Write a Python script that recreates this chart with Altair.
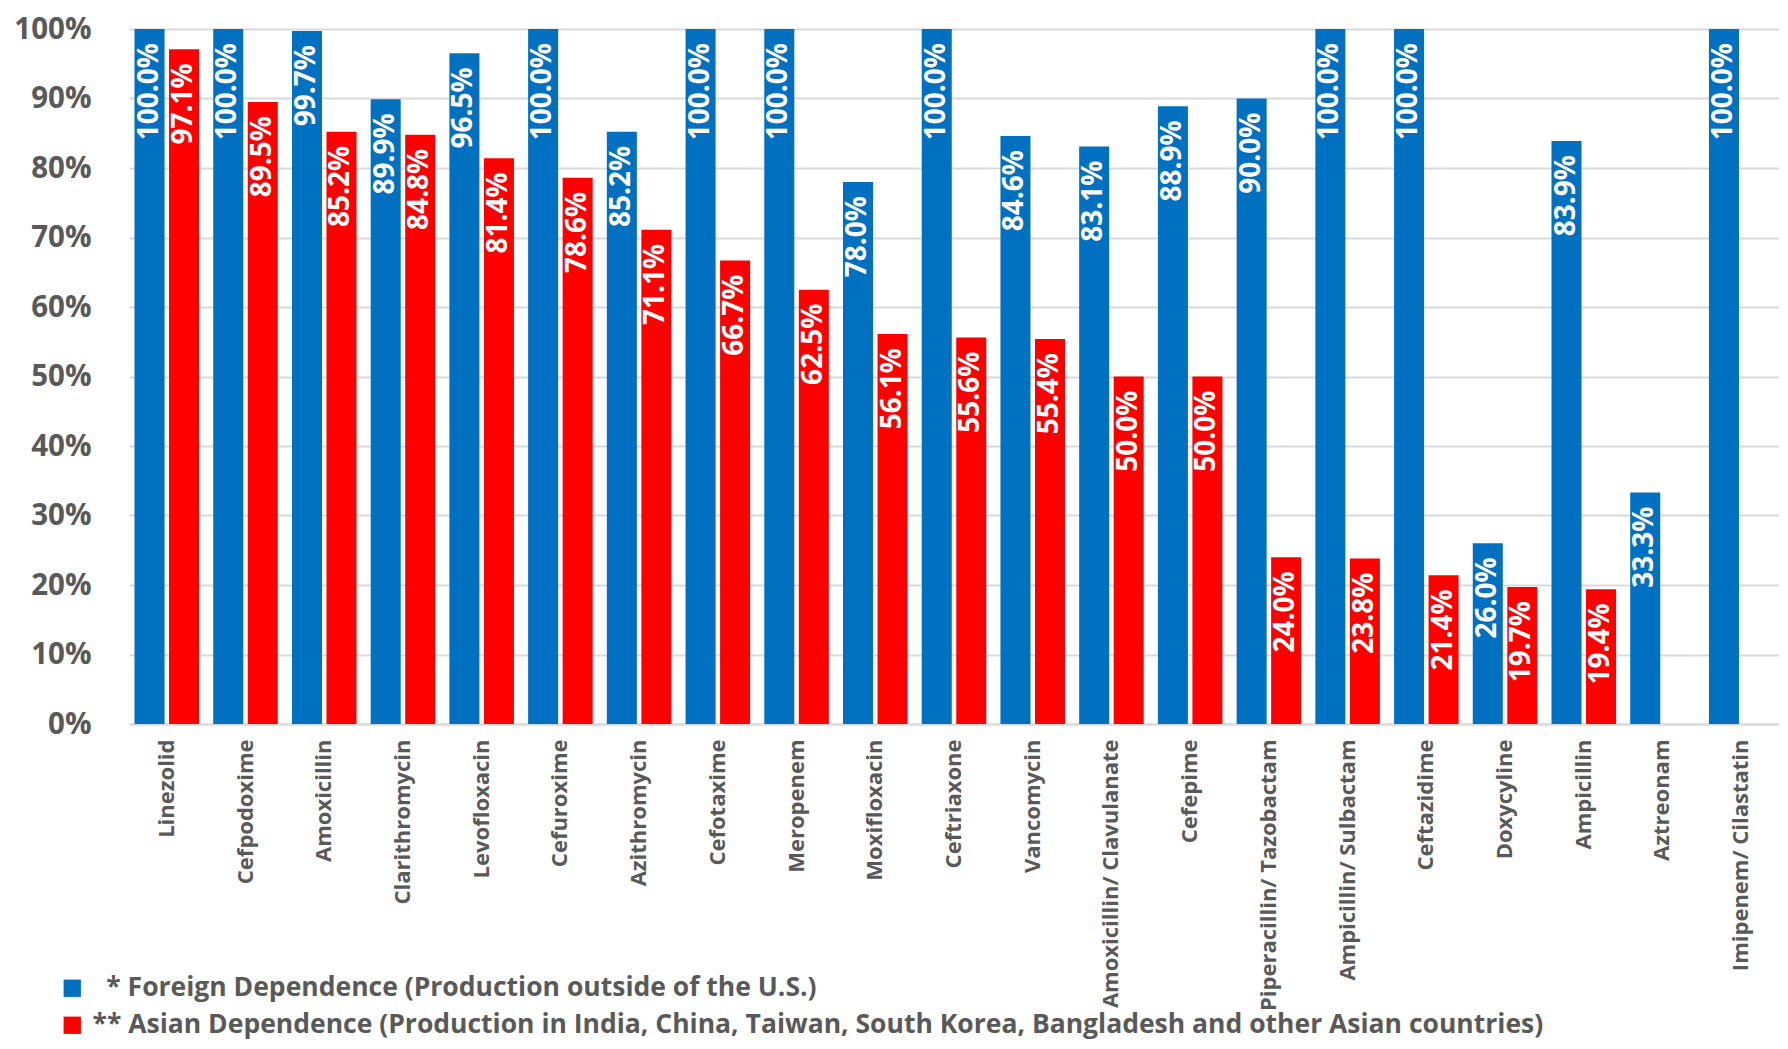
import altair as alt
import pandas as pd

categories = [
    "Linezolid", "Cefpodoxime", "Amoxicillin", "Clarithromycin", "Levofloxacin",
    "Cefuroxime", "Azithromycin", "Cefotaxime", "Meropenem", "Moxifloxacin",
    "Ceftriaxone", "Vancomycin", "Amoxicillin/ Clavulanate", "Cefepime",
    "Piperacillin/ Tazobactam", "Ampicillin/ Sulbactam", "Ceftazidime",
    "Doxycyline", "Ampicillin", "Aztreonam", "Imipenem/ Cilastatin",
]
foreign = [100.0, 100.0, 99.7, 89.9, 96.5, 100.0, 85.2, 100.0, 100.0, 78.0, 100.0,
           84.6, 83.1, 88.9, 90.0, 100.0, 100.0, 26.0, 83.9, 33.3, 100.0]
asian = [97.1, 89.5, 85.2, 84.8, 81.4, 78.6, 71.1, 66.7, 62.5, 56.1, 55.6,
         55.4, 50.0, 50.0, 24.0, 23.8, 21.4, 19.7, 19.4, 0.0, 0.0]
series = [
    "\u200b\u00a0\u00a0* Foreign Dependence (Production outside of the U.S.)",
    "** Asian Dependence (Production in India, China, Taiwan, South Korea, Bangladesh and other Asian countries)",
]
colors = ["#0070C0", "#FF0000"]
y_ticks = [0, 10, 20, 30, 40, 50, 60, 70, 80, 90, 100]

rows = []
for c, f, a in zip(categories, foreign, asian):
    rows.append({"drug": c, "series": series[0], "value": f})
    rows.append({"drug": c, "series": series[1], "value": a})
df = pd.DataFrame(rows)

FONT = "Open Sans"
GREY = "#595959"

base = alt.Chart(df).encode(
    x=alt.X(
        "drug:N", sort=categories,
        scale=alt.Scale(paddingInner=0.18, paddingOuter=0.07),
        axis=alt.Axis(title=None, labelAngle=270, labelFont=FONT, labelFontSize=22,
                      labelFontWeight="bold", labelColor=GREY, labelPadding=15,
                      labelLimit=400, ticks=False, domainColor="#d9d9d9", domainWidth=2),
    ),
    xOffset=alt.XOffset("series:N", sort=series, scale=alt.Scale(paddingInner=0.13)),
    y=alt.Y(
        "value:Q", scale=alt.Scale(domain=[0, 100], nice=False),
        axis=alt.Axis(title=None, values=y_ticks, labelExpr="datum.value + '%'",
                      labelFont=FONT, labelFontSize=29.5, labelFontWeight="bold",
                      labelColor=GREY, labelPadding=38, ticks=False, domain=False,
                      gridColor="#d9d9d9", gridWidth=2),
    ),
)

bars = base.mark_bar().encode(
    color=alt.Color(
        "series:N", sort=series,
        scale=alt.Scale(domain=series, range=colors),
        legend=alt.Legend(
            title=None, orient="none", legendX=-70, legendY=946, direction="vertical",
            symbolType="square", symbolSize=300, symbolStrokeWidth=0,
            labelFont=FONT, labelFontSize=26.5, labelFontWeight="bold", labelColor=GREY,
            labelLimit=1700, rowPadding=10, labelOffset=7,
        ),
    )
)

labels = base.mark_text(
    angle=270, align="right", baseline="middle", dx=-14, color="white",
    font=FONT, fontSize=28, fontWeight="bold",
).transform_filter("datum.value > 0").transform_calculate(
    label="format(datum.value, '.1f') + '%'"
).encode(text="label:N")

chart = alt.layer(bars, labels).properties(
    width=1650, height=695,
    autosize=alt.AutoSizeParams(type="none"),
    padding={"left": 121, "top": 21, "right": 0, "bottom": 317},
).configure_view(stroke=None)

chart.save("out.html", embed_options={"renderer": "svg", "actions": False})
